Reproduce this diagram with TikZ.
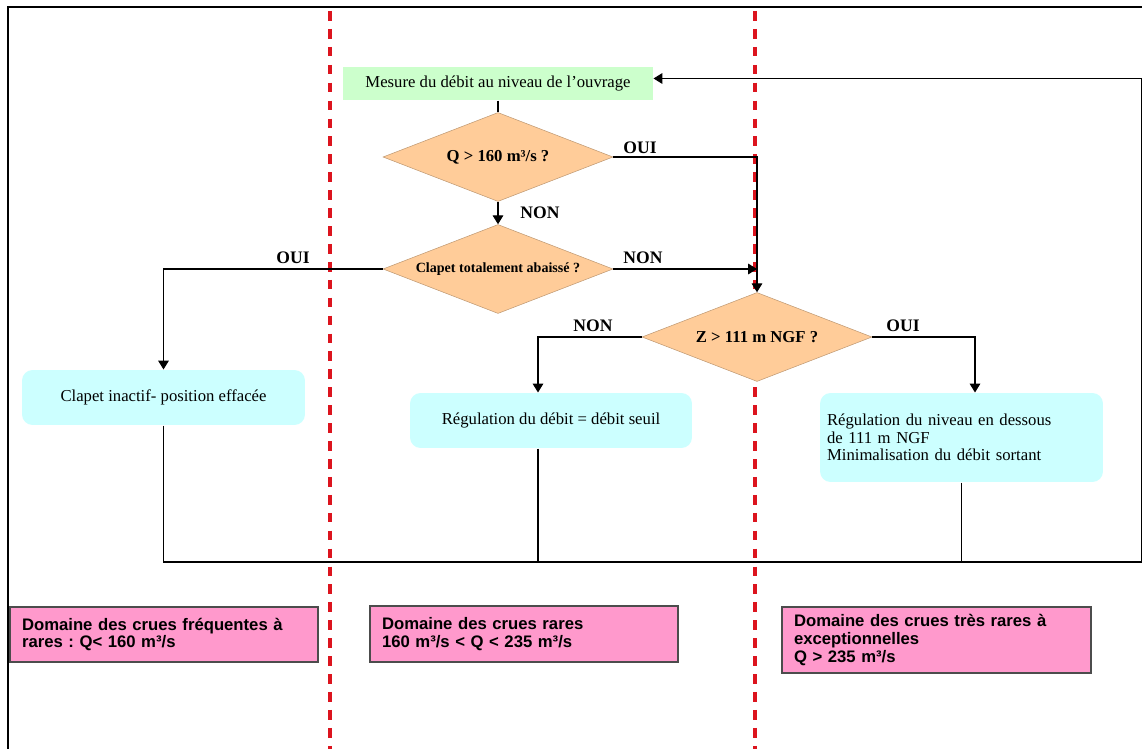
\documentclass[tikz,border=0pt]{standalone}
\usepackage{fontspec}
\setmainfont{Liberation Serif}
\newfontfamily\arialfont{Liberation Sans}
\usetikzlibrary{shapes.geometric,arrows.meta}
\frenchspacing

\definecolor{mesureGreen}{HTML}{CCFFCC}
\definecolor{testOrange}{HTML}{FFCC99}
\definecolor{actionCyan}{HTML}{CCFFFF}
\definecolor{domainePink}{HTML}{FF99CC}
\definecolor{limitRed}{RGB}{220,20,30}

\tikzstyle{mesureBox}=[shape=rectangle,fill=mesureGreen,minimum width=6.2cm,minimum height=0.66cm,inner sep=0pt,font=\fontsize{9.5}{11}\selectfont]
\tikzstyle{testState}=[shape=diamond,fill=testOrange,draw=testOrange!75!black,line width=0.3pt,aspect=2.6,minimum width=4.6cm,minimum height=1.78cm,inner sep=0pt,font=\bfseries\fontsize{9.5}{11}\selectfont]
\tikzstyle{actionBox}=[shape=rectangle,rounded corners=6pt,fill=actionCyan,minimum height=1.1cm,font=\fontsize{9.5}{10}\selectfont]
\tikzstyle{domaineBox}=[shape=rectangle,fill=domainePink,draw=black!70,line width=0.7pt,align=left,inner xsep=0.24cm,font=\arialfont\bfseries\fontsize{9.5}{10}\selectfont]
\tikzstyle{answer}=[inner sep=0pt,font=\bfseries\fontsize{10}{12}\selectfont]
\tikzstyle{limit}=[limitRed,line width=2pt,dash pattern=on 5.5pt off 4.7pt]

\begin{document}
\begin{tikzpicture}[x=0.02cm,y=-0.02cm,>={Triangle[length=5pt,width=6pt]},line width=0.6pt]
        \useasboundingbox (0,0) rectangle (1142,749);
        % page frame
        \draw[line width=1.2pt] (8,749) -- (8,7) -- (1142,7);
        % domain limits
        \draw[limit] (330,11) -- (330,749);
        \draw[limit] (755,11) -- (755,749);

        % measure and tests
        \node[mesureBox] (mesure) at (498,83.5) {Mesure du débit au niveau de l'ouvrage};
        \node[testState] (q160) at (498,157) {Q > 160 m³/s ?};
        \node[testState,font=\bfseries\fontsize{8}{10}\selectfont] (clapet) at (498,269) {Clapet totalement abaissé ?};
        \node[testState] (z111) at (757,337) {Z > 111 m NGF ?};

        % actions
        \node[actionBox,minimum width=5.66cm] (inactif) at (163.5,397.5) {Clapet inactif- position effacée};
        \node[actionBox,minimum width=5.64cm] (regDebit) at (551,420.5) {Régulation du débit = débit seuil};
        \node[actionBox,minimum height=1.78cm,text width=5.38cm,align=left,inner xsep=0.14cm] (regNiveau) at (961.5,437.5) {Régulation du niveau en dessous\\de 111 m NGF\\Minimalisation du débit sortant};

        % domains
        \node[domaineBox,minimum width=6.16cm,minimum height=1.1cm,text width=5.68cm] (frequentes) at (164,634.5) {Domaine des crues fréquentes à\\rares : Q< 160 m³/s};
        \node[domaineBox,minimum width=6.16cm,minimum height=1.12cm,text width=5.68cm] (rares) at (524,634) {Domaine des crues rares\\160 m³/s < Q < 235 m³/s};
        \node[domaineBox,minimum width=6.18cm,minimum height=1.32cm,text width=5.7cm] (tresRares) at (936.5,640) {Domaine des crues très rares à\\exceptionnelles\\Q > 235 m³/s};

        % answers
        \node[answer] (ouiQ) at (640,148) {OUI};
        \node[answer] (nonQ) at (540,213) {NON};
        \node[answer] (ouiClapet) at (293,258) {OUI};
        \node[answer] (nonClapet) at (643,258) {NON};
        \node[answer] (nonZ) at (593,326) {NON};
        \node[answer] (ouiZ) at (903,326) {OUI};

        \coordinate (retour) at (1141.5,562);
        \coordinate (regDebitAxe) at ([xshift=-0.26cm]regDebit.center);
        \coordinate (regNiveauAxe) at ([xshift=0.27cm]regNiveau.center);

        \draw (mesure.south) -- (q160.north);
        \draw [->] (q160.south) to (clapet.north);
        \draw [->] (q160.east) -| (z111.north);
        \draw [->] (clapet.east) -- (clapet.east -| z111.north);
        \draw [->] (clapet.west) -| (inactif.north);
        \draw [->] (z111.west) -| (regDebitAxe |- regDebit.north);
        \draw [->] (z111.east) -| (regNiveauAxe |- regNiveau.north);

        % back to the measure
        \draw (inactif.south) |- (retour);
        \draw (regDebitAxe |- regDebit.south) -- (regDebitAxe |- retour);
        \draw (regNiveau.south) -- (regNiveau.south |- retour);
        \draw [->] (retour) |- ([yshift=0.1cm]mesure.east);
    \end{tikzpicture}
\end{document}
